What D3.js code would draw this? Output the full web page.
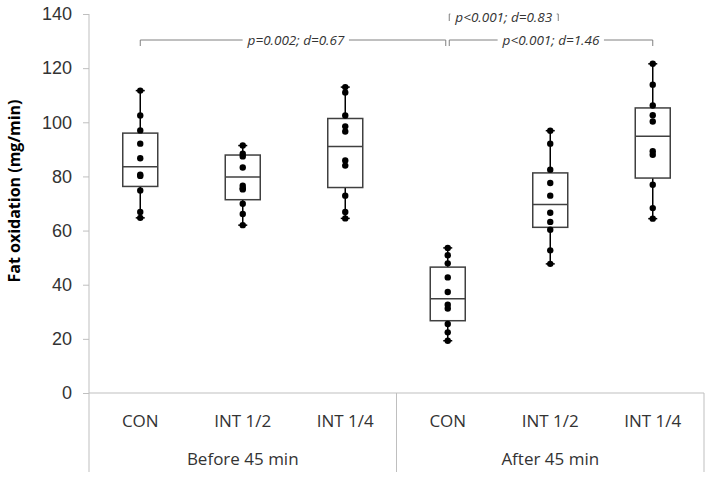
<!DOCTYPE html>
<html>
<head>
<meta charset="utf-8">
<script src="https://cdn.jsdelivr.net/npm/d3@7"></script>
<style>
  body { margin: 0; background: #fff; }
  svg { display: block; font-family: 'Open Sans', sans-serif; }
</style>
</head>
<body>
<svg id="chart" width="709" height="479"></svg>
<script>
// groups and conditions along the x axis
const groups = ['Before 45 min', 'After 45 min'];
const conditions = ['CON', 'INT 1/2', 'INT 1/4'];

// individual values (mg/min), one array per box
const beforeCon = [111.7, 102.5, 97.0, 92.1, 86.7, 80.6, 80.2, 74.8, 66.9, 64.7];
const beforeInt12 = [91.4, 88.4, 87.4, 83.3, 76.6, 75.6, 75.2, 69.9, 66.1, 62.0];
const beforeInt14 = [113.0, 111.0, 102.5, 98.5, 96.6, 85.9, 84.0, 72.9, 66.9, 64.5];
const afterCon = [53.6, 50.9, 47.9, 42.7, 37.3, 32.6, 31.2, 25.5, 22.4, 19.3];
const afterInt12 = [96.9, 92.1, 82.5, 77.6, 72.9, 66.6, 63.2, 60.3, 52.7, 47.7];
const afterInt14 = [121.6, 113.9, 106.2, 102.6, 100.3, 89.3, 88.0, 76.9, 68.3, 64.4];
const points = [beforeCon, beforeInt12, beforeInt14, afterCon, afterInt12, afterInt14];

// box statistics as drawn
const boxQ1 = [76.3, 71.4, 75.9, 26.7, 61.2, 79.4];
const boxMedian = [83.6, 79.8, 91.1, 34.8, 69.6, 94.8];
const boxQ3 = [96.0, 87.9, 101.4, 46.5, 81.3, 105.3];
const whiskerLow = [64.7, 62.0, 64.5, 19.3, 47.7, 64.4];
const whiskerHigh = [111.7, 91.4, 113.0, 53.6, 96.9, 121.6];

const yTicks = [0, 20, 40, 60, 80, 100, 120, 140];

// significance brackets: from / to box index
const statLabels = ['p=0.002; d=0.67', 'p<0.001; d=1.46', 'p<0.001; d=0.83'];
const statFrom = [0, 3, 3];
const statTo = [3, 5, 4];

const svg = d3.select('#chart');
const plotLeft = 89, plotRight = 704, plotTop = 14, plotBottom = 393, plotFloor = 472;

const categories = d3.range(groups.length * conditions.length);
const x = d3.scaleBand().domain(categories).range([plotLeft, plotRight]).padding(0);
const y = d3.scaleLinear().domain([0, 140]).range([plotBottom, plotTop]);
const cx = i => x(i) + x.bandwidth() / 2;

const axisColor = '#bfbfbf';
const textColor = '#333333';

// y axis
const yAxis = svg.append('g')
  .attr('transform', `translate(${plotLeft},0)`)
  .call(d3.axisLeft(y).tickValues(yTicks).tickSize(6).tickPadding(11).tickSizeOuter(0));
yAxis.select('.domain').remove();
yAxis.selectAll('.tick line').attr('stroke', axisColor);
yAxis.selectAll('.tick text')
  .attr('fill', textColor)
  .style('font-size', '18px');

svg.append('line')
  .attr('x1', plotLeft).attr('x2', plotLeft)
  .attr('y1', plotTop).attr('y2', plotFloor)
  .attr('stroke', axisColor);

svg.append('line')
  .attr('x1', plotLeft).attr('x2', plotRight)
  .attr('y1', plotBottom).attr('y2', plotBottom)
  .attr('stroke', axisColor);

// group dividers
groups.forEach((g, gi) => {
  const xEnd = x(gi * conditions.length + conditions.length - 1) + x.bandwidth();
  svg.append('line')
    .attr('x1', xEnd).attr('x2', xEnd)
    .attr('y1', plotBottom).attr('y2', plotFloor)
    .attr('stroke', axisColor);

  const xMid = cx(gi * conditions.length + 1);
  svg.append('text')
    .attr('x', xMid).attr('y', 458)
    .attr('text-anchor', 'middle')
    .attr('dominant-baseline', 'central')
    .attr('fill', textColor)
    .style('font-size', '17px')
    .text(g);
});

// condition labels
categories.forEach(i => {
  svg.append('text')
    .attr('x', cx(i)).attr('y', 420)
    .attr('text-anchor', 'middle')
    .attr('dominant-baseline', 'central')
    .attr('fill', textColor)
    .style('font-size', '17px')
    .text(conditions[i % conditions.length]);
});

// y axis title
svg.append('text')
  .attr('transform', 'translate(14,191) rotate(-90)')
  .attr('text-anchor', 'middle')
  .attr('dominant-baseline', 'central')
  .attr('fill', '#000')
  .style('font-size', '16px')
  .style('font-weight', 'bold')
  .text('Fat oxidation (mg/min)');

// boxes
const boxW = 35, capW = 9;
const boxes = svg.append('g').selectAll('g').data(categories).join('g');

boxes.append('line')
  .attr('x1', cx).attr('x2', cx)
  .attr('y1', i => y(whiskerLow[i])).attr('y2', i => y(whiskerHigh[i]))
  .attr('stroke', '#000').attr('stroke-width', 1.5);

boxes.append('line')
  .attr('x1', i => cx(i) - capW / 2).attr('x2', i => cx(i) + capW / 2)
  .attr('y1', i => y(whiskerHigh[i])).attr('y2', i => y(whiskerHigh[i]))
  .attr('stroke', '#000').attr('stroke-width', 1.5);

boxes.append('line')
  .attr('x1', i => cx(i) - capW / 2).attr('x2', i => cx(i) + capW / 2)
  .attr('y1', i => y(whiskerLow[i])).attr('y2', i => y(whiskerLow[i]))
  .attr('stroke', '#000').attr('stroke-width', 1.5);

boxes.append('rect')
  .attr('x', i => cx(i) - boxW / 2)
  .attr('y', i => y(boxQ3[i]))
  .attr('width', boxW)
  .attr('height', i => y(boxQ1[i]) - y(boxQ3[i]))
  .attr('fill', '#fff')
  .attr('stroke', '#404040').attr('stroke-width', 1.5);

boxes.append('line')
  .attr('x1', i => cx(i) - boxW / 2).attr('x2', i => cx(i) + boxW / 2)
  .attr('y1', i => y(boxMedian[i])).attr('y2', i => y(boxMedian[i]))
  .attr('stroke', '#404040').attr('stroke-width', 1.5);

boxes.selectAll('circle')
  .data(i => points[i].map(v => ({ i, v })))
  .join('circle')
  .attr('cx', d => cx(d.i))
  .attr('cy', d => y(d.v))
  .attr('r', 3.2)
  .attr('fill', '#000');

// significance brackets
const bracketY = [40, 40, 14];
const tickLen = [6, 6, 7];
const padFrom = [0, 1.5, 1.5];
const padTo = [-2, 0, 8];
statLabels.forEach((label, k) => {
  const x1 = cx(statFrom[k]) + padFrom[k];
  const x2 = cx(statTo[k]) + padTo[k];
  const by = bracketY[k];
  const g = svg.append('g');
  g.append('path')
    .attr('d', `M${x1},${by + tickLen[k]}V${by}H${x2}V${by + tickLen[k]}`)
    .attr('fill', 'none')
    .attr('stroke', '#808080')
    .attr('stroke-width', 1);
  const t = g.append('text')
    .attr('x', (x1 + x2) / 2 + (k === 0 ? 3 : 0))
    .attr('y', by + (k === 2 ? 3 : 0))
    .attr('text-anchor', 'middle')
    .attr('dominant-baseline', 'central')
    .attr('fill', textColor)
    .style('font-size', '13.5px')
    .style('font-style', 'italic')
    .text(label);
  const bb = t.node().getBBox();
  g.insert('rect', 'text')
    .attr('x', bb.x - 4).attr('y', bb.y)
    .attr('width', bb.width + 8).attr('height', bb.height)
    .attr('fill', '#fff');
});
</script>
</body>
</html>
